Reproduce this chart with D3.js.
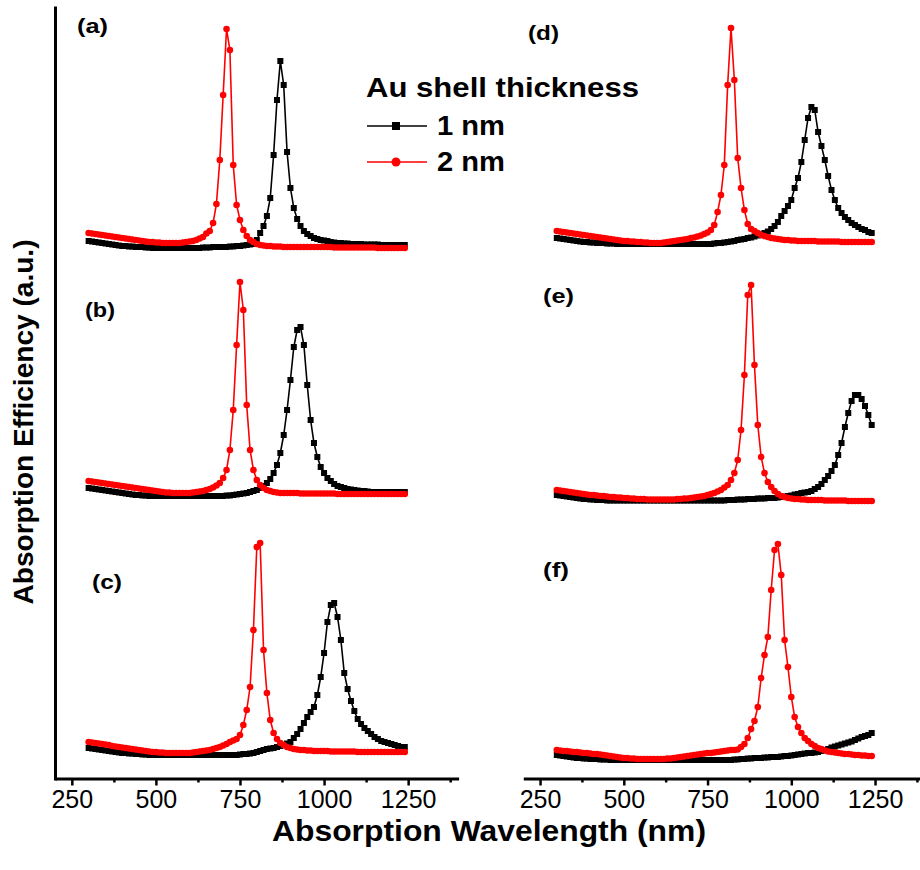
<!DOCTYPE html>
<html>
<head>
<meta charset="utf-8">
<script src="https://cdn.jsdelivr.net/npm/d3@7"></script>
<style>
  body { margin: 0; background: #fff; }
  text { font-family: "Liberation Sans", Arial, sans-serif; fill: #000; }
</style>
</head>
<body>
<svg id="chart" width="920" height="870"></svg>
<script>
// wavelength grid (nm), shared by every spectrum
const wavelength = [
  300,310,320,330,340,350,360,370,380,390,
  400,410,420,430,440,450,460,470,480,490,
  500,510,520,530,540,550,560,570,580,590,
  600,610,620,630,640,650,660,670,680,690,
  700,710,720,730,740,750,760,770,780,790,
  800,810,820,830,840,850,860,870,880,890,
  900,910,920,930,940,950,960,970,980,990,
  1000,1010,1020,1030,1040,1050,1060,1070,1080,1090,
  1100,1110,1120,1130,1140,1150,1160,1170,1180,1190,
  1200,1210,1220,1230,1240
];

// absorption efficiency (a.u.); "Black" = 1 nm shell, "Red" = 2 nm shell
const aBlack = [
  9,8.5,8,7.5,7,6.5,6,5.5,5,4.5,
  4,4,3.5,3.5,3,3,3,2.5,2.5,2,
  2,2,2,2,2,2,2,2,2,2,
  2,2,2,2,2.5,2.5,2.5,3,3,3,
  3,3,3.5,3.5,4,4,4.5,5,5.5,6,
  10,17,24,34,52,95,150,189,165,98,
  62,42,31,24,19,16,14,12,11,10,
  9.5,9,8,7.5,7,7,6.5,6.5,6,6,
  6,6,5.5,5.5,5.5,5.5,5.5,5,5,5,
  5,5,5,5,5
];
const aRed = [
  17,16.5,16,15.5,15,14.5,14,13.5,13,12.5,
  12,11.5,11,10.5,10,9.5,9,8.5,8,8,
  7.5,7.5,7,7,7,7,7,7,7.5,8,
  8.5,9,10,11.5,13,16.5,19,27,46,90,
  155,221,200,85,45,30,20,14,10,8,
  6,5,4.5,4,4,3.5,3.5,3.5,3,3,
  3,3,3,3,3,3,3,3,3,3,
  3,3,3,2.5,2.5,2.5,2.5,2.5,2.5,2.5,
  2.5,2.5,2.5,2.5,2.5,2.5,2,2,2,2,
  2,2,2,2,2
];
const bBlack = [
  17,16.5,16,15.5,15,14.5,14,13.5,13,12.5,
  12,11.5,11,10.5,10,10,9.5,9.5,9,9,
  9,9,9,9,9,9,9,9,9,9,
  9,9,9,9,9,9,9,9,9,9,
  9,9.5,9.5,10,10.5,11,11.5,12,13,14,
  15,17,19,22,26,32,40,52,70,95,
  125,158,175,178,160,120,85,62,48,38,
  32,27,24,21,19,18,17,16,15.5,15,
  14.5,14,14,13.5,13,13,13,13,13,13,
  13,13,13,13,13
];
const bRed = [
  24,23.5,23,22.5,22,21.5,21,20.5,20,19.5,
  19,18.5,18,17.5,17,16.5,16,15.5,15,14.5,
  14,13.5,13,12.5,12.5,12,12,12,12,12,
  12,12.5,13,13.5,14,15,16,17.5,19.5,22,
  27,35,55,95,160,223,195,100,55,35,
  25,20,17,15,14,13,12.5,12,12,12,
  12,12,12,11.5,11.5,11.5,11.5,11.5,11.5,11.5,
  11.5,11.5,11.5,11.5,11,11,11,11,11,11,
  11,11,11,11,11,11,11,11,11,11,
  11,11,11,11,11
];
const cBlack = [
  17,16.5,16,15.5,15,14.5,14,13.5,13,12.5,
  12,12,11.5,11.5,11,11,10.5,10.5,10,10,
  10,10,10,10,10,10,10,10,10,10,
  10,10,10,10,10,10,10,10,10,10,
  10,10,10,10,10,10.5,11,11,11.5,12,
  13,14,15,16,16.5,17,18,19,20,21.5,
  23,27,31,36,42,48,53,58,70,88,
  112,143,160,162,148,125,92,76,64,54,
  46,41,37,34,31,28,26,24,23,22,
  21,20,19,18,18
];
const cRed = [
  23,22.5,22,21.5,21,20.5,20,19,18.5,18,
  17.5,17,16.5,16,15.5,15,14.5,14,13.5,13,
  13,12.5,12.5,12,12,12,12,12,12,12,
  12,12.5,13,13.5,14,14.5,15,16,17,18,
  19.5,21,23,24.5,26,30,40,55,78,135,
  218,222,115,72,45,32,26,22,20,18,
  17,16,15.5,15,15,14.5,14.5,14,14,14,
  14,14,13.5,13.5,13.5,13.5,13.5,13.5,13.5,13.5,
  13,13,13,13,13,13,13,13,13,13,
  13,13,13,13,13
];
const dBlack = [
  12,11.5,11,10.5,10,9.5,9,8.5,8,8,
  7.5,7.5,7,7,7,6.5,6.5,6.5,6,6,
  6,6,6,6,6,6,6,6,6,6,
  6,6,6,6,6,6,6,6,6,6,
  6,6,6,6,6,6,6,6.5,7,7,
  7.5,8,8.5,9,10,10.5,11,12,12.5,13.5,
  14.5,15.5,17,18.5,21,24,28,34,39,44,
  50,62,72,88,110,132,143,140,118,104,
  90,74,60,50,42,37,33,30,27,25,
  23,21,20,18,17
];
const dRed = [
  19,18.5,18,17.5,17,16.5,16,15.5,15,14.5,
  14,13.5,13,12.5,12,11.5,11,10.5,10,9.5,
  9,9,8.5,8.5,8,8,7.5,7.5,7,7,
  7,7,7.5,8,8.5,9,9.5,10,10.5,11,
  12,12.5,13.5,14.5,16,17.5,20,25,38,55,
  85,165,222,170,92,62,40,26,21,19,
  17,15,14,13,12,11.5,11,10.5,10,10,
  9.5,9.5,9,9,9,9,9,9,8.5,8.5,
  8.5,8.5,8.5,8.5,8.5,8,8,8,8,8,
  8,8,8,8,8
];
const eBlack = [
  10,9.5,9,8.5,8,7.5,7,6.5,6,6,
  5.5,5.5,5,5,5,4.5,4.5,4.5,4.5,4.5,
  4.5,4.5,4.5,4.5,4.5,4.5,4.5,4.5,4.5,4.5,
  4.5,4.5,4.5,4.5,4.5,4.5,4.5,4.5,4.5,4.5,
  4.5,4.5,4.5,4.5,4.5,4.5,4.5,4.5,4.5,4.5,
  4.5,5,5,5,5.5,5.5,5.5,6,6,6,
  6.5,6.5,6.5,7,7,7,7.5,8,8.5,9,
  9.5,10.5,11,12,12.5,13,14,16,18,21,
  25,29,34,40,50,62,78,92,104,110,
  110,106,99,90,80
];
const eRed = [
  15,14.5,14,13.5,13,12.5,12,11.5,11,10.5,
  10,10,9.5,9,9,8.5,8,8,7.5,7.5,
  7,7,6.5,6.5,6,6,6,5.5,5.5,5.5,
  5.5,5.5,5.5,5.5,5.5,5.5,6,6,6.5,6.5,
  7,7.5,8,8.5,9,10,11,12,13.5,15,
  17.5,20,25,32,45,75,130,210,220,140,
  80,48,32,23,18,14,11,9,8,7,
  6.5,6,6,5.5,5.5,5,5,5,5,5,
  4.5,4.5,4.5,4.5,4.5,4.5,4.5,4,4,4,
  4,4,4,4,4
];
const fBlack = [
  10,9.5,9,8.5,8,7.5,7,7,6.5,6.5,
  6,6,6,5.5,5.5,5.5,5,5,5,5,
  5,5,5,5,5,5,5,5,5,5,
  5,5,5,5,5,5,5,5,5,5,
  5,5,5,5,5,5,5,5,5,5,
  5,5,5,5.5,5.5,6,6,6.5,6.5,7,
  7,7,7.5,7.5,8,8,8,8.5,9,9,
  9.5,10,10.5,11,11.5,12,12,12.5,13,14,
  15,16,17.5,18.5,19.5,20.5,21.5,22.5,23.5,25,
  26.5,28,29,30,32
];
const fRed = [
  15,14.5,14,14,13.5,13,13,12.5,12,12,
  11.5,11,11,10.5,10,9.5,9,8.5,8,7.5,
  7,7,6.5,6.5,6,6,6,6,6,6,
  6,6,6,6.5,6.5,7,7.5,8,8.5,9,
  9.5,10,10.5,11,11.5,12,12,12.5,13,13.5,
  14,14.5,15,15,15.5,18,21,27,36,44,
  58,87,110,128,175,215,221,190,125,98,
  68,48,38,32,27,24,21,19,17,16,
  14.5,13.5,13,12.5,12,11.5,11,11,10.5,10,
  10,9.5,9.5,9,9
];

const seriesNames = ["1 nm", "2 nm"];
const legendTitle = "Au shell thickness";
const xMajorTicks = [250, 500, 750, 1000, 1250];
const xMinorTicks = [375, 625, 875, 1125, 1375];
const xLabel = "Absorption Wavelength (nm)";
const yLabel = "Absorption Efficiency (a.u.)";

const panels = [
  { label: "(a)", col: 0, row: 0, black: aBlack, red: aRed },
  { label: "(b)", col: 0, row: 1, black: bBlack, red: bRed },
  { label: "(c)", col: 0, row: 2, black: cBlack, red: cRed },
  { label: "(d)", col: 1, row: 0, black: dBlack, red: dRed },
  { label: "(e)", col: 1, row: 1, black: eBlack, red: eRed },
  { label: "(f)", col: 1, row: 2, black: fBlack, red: fRed }
];

// layout
const colorBlack = "#000000", colorRed = "#ff0000";
const axisY = 778.5;
const xScales = [
  d3.scaleLinear().domain([200, 1400]).range([55, 458.6]),
  d3.scaleLinear().domain([200, 1400]).range([523.3, 925.3])
];
const rowBase = [250, 505, 765];
const yScales = rowBase.map(b => d3.scaleLinear().domain([0, 230]).range([b, b - 230]));
// panel label anchor (left x, baseline y) and width
const labelLayout = {
  "(a)": [77, 33, 31], "(b)": [85, 317, 30], "(c)": [92, 589, 30],
  "(d)": [528, 40, 31], "(e)": [543, 303, 31], "(f)": [543, 577, 26]
};

const svg = d3.select("#chart");
svg.append("rect").attr("width", 920).attr("height", 870).attr("fill", "#fff");

// bottom axes, one per column
xScales.forEach(x => {
  const major = svg.append("g")
    .attr("transform", `translate(0,${axisY})`)
    .call(d3.axisBottom(x).tickValues(xMajorTicks).tickSize(7).tickSizeOuter(0)
      .tickPadding(5).tickFormat(d3.format("d")));
  major.select(".domain").attr("stroke-width", 3);
  major.selectAll(".tick line").attr("stroke-width", 2.5);
  major.selectAll(".tick text")
    .style("font-family", '"Liberation Sans", Arial, sans-serif')
    .style("font-size", "25px");

  const minor = svg.append("g")
    .attr("transform", `translate(0,${axisY})`)
    .call(d3.axisBottom(x).tickValues(xMinorTicks).tickSize(4).tickSizeOuter(0).tickFormat(""));
  minor.select(".domain").remove();
  minor.selectAll(".tick line").attr("stroke-width", 2.5);
});

// left y axis line (no labels)
const yAxisScale = d3.scaleLinear().domain([0, 1]).range([780, 6]);
svg.append("g")
  .attr("transform", "translate(55,0)")
  .call(d3.axisLeft(yAxisScale).tickValues([]).tickSizeOuter(0))
  .select(".domain").attr("stroke-width", 3);

// spectra
panels.forEach(p => {
  const x = xScales[p.col], y = yScales[p.row];
  const g = svg.append("g").attr("class", "panel");
  const line = d3.line().x(d => x(d.wl)).y(d => y(d.v));

  const blackPts = wavelength.map((wl, i) => ({ wl, v: p.black[i] }));
  const redPts = wavelength.map((wl, i) => ({ wl, v: p.red[i] }));

  g.append("path").datum(blackPts)
    .attr("d", line).attr("fill", "none").attr("stroke", colorBlack).attr("stroke-width", 1.6);
  g.selectAll("rect.m").data(blackPts).join("rect")
    .attr("class", "m")
    .attr("x", d => x(d.wl) - 3).attr("y", d => y(d.v) - 3)
    .attr("width", 6).attr("height", 6)
    .attr("fill", colorBlack);

  g.append("path").datum(redPts)
    .attr("d", line).attr("fill", "none").attr("stroke", colorRed).attr("stroke-width", 1.6);
  g.selectAll("circle.m").data(redPts).join("circle")
    .attr("class", "m")
    .attr("cx", d => x(d.wl)).attr("cy", d => y(d.v))
    .attr("r", 3.3)
    .attr("fill", colorRed);

  const [lx, ly, lw] = labelLayout[p.label];
  svg.append("text")
    .attr("x", lx).attr("y", ly)
    .attr("textLength", lw).attr("lengthAdjust", "spacingAndGlyphs")
    .style("font-size", "20px").style("font-weight", "bold")
    .text(p.label);
});

// legend
const legend = svg.append("g");
legend.append("text")
  .attr("x", 366).attr("y", 97)
  .attr("textLength", 273).attr("lengthAdjust", "spacingAndGlyphs")
  .style("font-size", "27px").style("font-weight", "bold")
  .text(legendTitle);
const legendRows = [
  { name: seriesNames[0], color: colorBlack, shape: "square", y: 126 },
  { name: seriesNames[1], color: colorRed, shape: "circle", y: 162 }
];
legendRows.forEach(r => {
  legend.append("line")
    .attr("x1", 367).attr("x2", 427).attr("y1", r.y).attr("y2", r.y)
    .attr("stroke", r.color).attr("stroke-width", 1.6);
  if (r.shape === "square") {
    legend.append("rect").attr("x", 392).attr("y", r.y - 4).attr("width", 8).attr("height", 8).attr("fill", r.color);
  } else {
    legend.append("circle").attr("cx", 396).attr("cy", r.y).attr("r", 4.5).attr("fill", r.color);
  }
  legend.append("text")
    .attr("x", 437).attr("y", r.y + 9)
    .attr("textLength", 68).attr("lengthAdjust", "spacingAndGlyphs")
    .style("font-size", "27px").style("font-weight", "bold")
    .text(r.name);
});

// axis titles
svg.append("text")
  .attr("x", 489).attr("y", 841)
  .attr("text-anchor", "middle")
  .attr("textLength", 434).attr("lengthAdjust", "spacingAndGlyphs")
  .style("font-size", "30px").style("font-weight", "bold")
  .text(xLabel);

svg.append("text")
  .attr("transform", "translate(33,422) rotate(-90)")
  .attr("text-anchor", "middle")
  .attr("textLength", 365).attr("lengthAdjust", "spacingAndGlyphs")
  .style("font-size", "28px").style("font-weight", "bold")
  .text(yLabel);
</script>
</body>
</html>
